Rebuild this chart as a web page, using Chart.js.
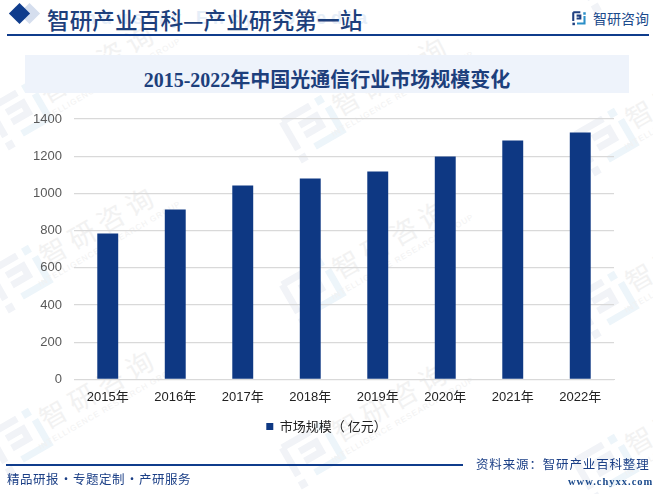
<!DOCTYPE html>
<html>
<head>
<meta charset="utf-8">
<script src="https://cdn.jsdelivr.net/npm/chart.js@4"></script>
<style>
    html, body { margin: 0; padding: 0; background: #fff; }
    #page { position: relative; width: 653px; height: 494px; overflow: hidden; font-family: "Noto Sans CJK SC", sans-serif; }
    #page > * { position: absolute; }
    #wm { left: 0; top: 0; }
    #chart { left: 0; top: 0; }
    .txt { white-space: nowrap; line-height: 1; }
    .sep { display: inline-block; width: 14px; text-align: center; letter-spacing: 0; }
</style>
</head>
<body>
<div id="page">
    <svg id="wm" width="653" height="494"></svg>
    <div style="left:25px;top:55px;width:604px;height:38px;background:#eef3fb;"></div>
    <div class="txt" style="left:75px;top:8px;color:#e6eef8;font:bold 18px 'Liberation Sans';letter-spacing:5px;">Industry Encyclopedia</div>
    <div style="left:12px;top:6px;width:15px;height:15px;background:#d5deee;transform:translateX(10px) rotate(45deg);"></div>
    <div style="left:12px;top:6px;width:15px;height:15px;background:#0f3c8c;transform:rotate(45deg);"></div>
    <div class="txt" style="left:47px;top:9px;font-size:22.7px;color:#1d3f7c;font-weight:500;">智研产业百科—产业研究第一站</div>
    <svg style="left:572px;top:11px;" width="15" height="15" viewBox="0 0 36 36">
        <path d="M3 3H20M3 3V24M11 11H20V18H11" fill="none" stroke="#1f3f80" stroke-width="5"/>
        <rect x="1" y="28" width="6" height="6" fill="#1f3f80"/>
        <path d="M27 3h6v6h-6z" fill="#2b8fc8"/>
        <path d="M30 12V30H12" fill="none" stroke="#2b8fc8" stroke-width="5"/>
    </svg>
    <div class="txt" style="left:593px;top:11px;font-size:14px;color:#1b4a8c;">智研咨询</div>
    <div style="left:7px;top:34px;width:642px;height:1.5px;background:#0f3c8c;"></div>
    <div class="txt" style="left:25px;width:604px;top:64px;text-align:center;font:bold 20px 'Liberation Serif','Noto Sans CJK SC';color:#1d3f7c;">2015-2022年中国光通信行业市场规模变化</div>
    <canvas id="chart" width="653" height="494"></canvas>
    <div style="left:6px;top:464px;width:457px;height:1.5px;background:#0f3c8c;"></div>
    <div class="txt" style="left:7px;top:473px;font-size:12.5px;letter-spacing:.5px;color:#1b3f86;">精品研报<span class="sep">·</span>专题定制<span class="sep">·</span>产研服务</div>
    <div class="txt" style="left:476px;top:458px;font-size:12.5px;letter-spacing:.85px;color:#1b3f86;">资料来源：智研产业百科整理</div>
    <div class="txt" style="left:568px;top:476px;font:bold 10.5px 'Liberation Serif';letter-spacing:1px;color:#1b4a8c;">www.chyxx.com</div>
</div>
<script>
const categories = ['2015年', '2016年', '2017年', '2018年', '2019年', '2020年', '2021年', '2022年'];
const marketSize = [785, 913, 1042, 1080, 1118, 1198, 1284, 1327];
const seriesName = '市场规模（ 亿元）';
const yTicks = [0, 200, 400, 600, 800, 1000, 1200, 1400];

// faint tiled watermark behind the chart
const wm = document.getElementById('wm');
const addMark = (x, y) => {
    const g = `
        <g transform="translate(${x} ${y}) rotate(-30)">
            <path d="M-24 -20H8M-24 -20V12M-11 -8H8V3H-11" fill="none" stroke="#f1f3f7" stroke-width="7"/>
            <rect x="-28" y="18" width="8" height="8" fill="#f1f3f7"/>
            <rect x="15" y="-24" width="8" height="8" fill="#edf5fa"/>
            <path d="M23 -10V18H-8" fill="none" stroke="#edf5fa" stroke-width="7"/>
        </g>
        <g transform="translate(${x + 80} ${y - 50}) rotate(-30)">
            <text x="0" y="8" text-anchor="middle" font-size="27" letter-spacing="6" fill="#f2f2f2" font-family="Noto Sans CJK SC">智研咨询</text>
            <text x="0" y="22" text-anchor="middle" font-size="8" letter-spacing="1" fill="#f2f2f2" font-family="Liberation Sans">INTELLIGENCE RESEARCH GROUP</text>
        </g>`;
    wm.insertAdjacentHTML('beforeend', g);
};
for (let i = 0; i < 3; i++) {
    for (let j = -2; j < 2; j++) {
        addMark(20 + 293 * i, 277 + 13 * i + 163 * j);
    }
}

// legend is centred on the whole page, not on the plot
const centerLegend = {
    id: 'centerLegend',
    afterLayout: chart => {
        chart.legend.left = 0;
        chart.legend.right = chart.width;
    }
};

new Chart(document.getElementById('chart').getContext('2d'), {
    type: 'bar',
    plugins: [centerLegend],
    data: {
        labels: categories,
        datasets: [{
            label: seriesName,
            data: marketSize,
            backgroundColor: '#0e3883',
            categoryPercentage: 1,
            barPercentage: 0.31
        }]
    },
    options: {
        responsive: false,
        animation: false,
        layout: { padding: { left: 0, right: 39, top: 119, bottom: 51 } },
        scales: {
            x: {
                grid: { display: false },
                border: { color: '#d9d9d9' },
                ticks: { color: '#222', padding: 2, maxRotation: 0, font: { family: 'Liberation Sans, Noto Sans CJK SC', size: 13 } }
            },
            y: {
                min: 0,
                max: 1400,
                afterFit: scale => { scale.width = 74; },
                afterBuildTicks: scale => { scale.ticks = yTicks.map(value => ({ value })); },
                grid: { color: '#d9d9d9', lineWidth: 1.2, drawTicks: false },
                border: { display: false },
                ticks: { color: '#595959', padding: 12, callback: v => String(v), font: { family: 'Liberation Sans', size: 13 } }
            }
        },
        plugins: {
            tooltip: { enabled: false },
            legend: {
                position: 'bottom',
                labels: { boxWidth: 7, boxHeight: 7, color: '#222', padding: 13, font: { family: 'Noto Sans CJK SC', size: 13 } }
            }
        }
    }
});
</script>
</body>
</html>
